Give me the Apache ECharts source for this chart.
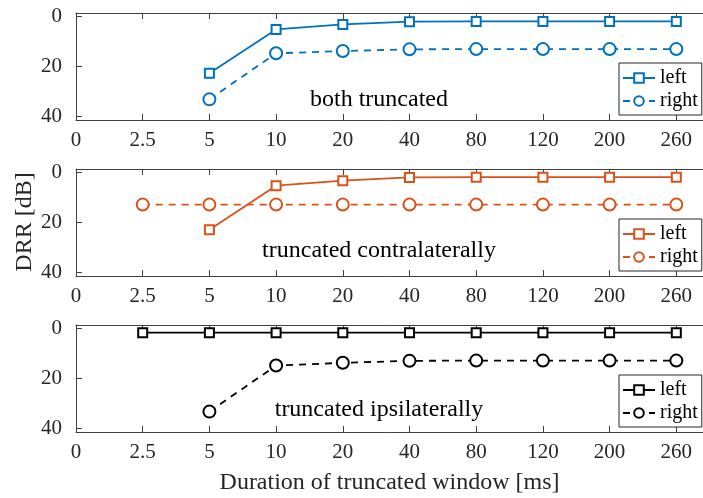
<!DOCTYPE html>
<html>
<head>
<meta charset="utf-8">
<script src="https://cdn.jsdelivr.net/npm/echarts@6/dist/echarts.min.js"></script>
<style>
html,body{margin:0;padding:0;background:#fff;}
#chart{width:703px;height:498px;}
</style>
</head>
<body>
<div id="chart"></div>
<script>
// ---- data ----
var categories = ['0', '2.5', '5', '10', '20', '40', '80', '120', '200', '260'];
var yTicks = [0, 20, 40];
var panelTitles = ['both truncated', 'truncated contralaterally', 'truncated ipsilaterally'];
var seriesNames = ['left', 'right'];

var bothLeft   = [null, null, 22.7, 5.1, 3.1, 2.0, 1.9, 1.9, 1.9, 1.9];
var bothRight  = [null, null, 33.2, 14.7, 13.8, 13.1, 13.0, 13.0, 13.0, 13.0];
var contraLeft  = [null, null, 22.9, 5.2, 3.2, 1.9, 1.8, 1.8, 1.8, 1.8];
var contraRight = [null, 12.8, 12.8, 12.8, 12.8, 12.8, 12.8, 12.8, 12.8, 12.8];
var ipsiLeft  = [null, 1.6, 1.6, 1.6, 1.6, 1.6, 1.6, 1.6, 1.6, 1.6];
var ipsiRight = [null, null, 33.3, 14.8, 13.7, 12.9, 12.8, 12.8, 12.8, 12.8];

var panelData = [[bothLeft, bothRight], [contraLeft, contraRight], [ipsiLeft, ipsiRight]];
var panelColors = ['#0072BD', '#D95319', '#000000'];

// ---- layout ----
var FONT = 'Liberation Serif, Times New Roman, serif';
var gridTops = [13, 169, 325];
var gridH = 107;
var gridL = 76;
var gridW = 628;
var xIdx = categories.map(function (c, i) { return i; });

function toPairs(arr) {
  var out = [];
  arr.forEach(function (v, i) { if (v !== null) out.push([i, v]); });
  return out;
}

var grids = [], xAxes = [], yAxes = [], series = [], legends = [], graphics = [];
var axisColor = '#404040';

for (var p = 0; p < 3; p++) {
  grids.push({ left: gridL, top: gridTops[p], width: gridW, height: gridH });
  // bottom axis
  xAxes.push({
    type: 'value', gridIndex: p, position: 'bottom', min: 0, max: 9.4,
    axisLine: { show: true, onZero: false, lineStyle: { color: axisColor, width: 1 } },
    axisTick: { show: true, inside: true, length: 6, customValues: xIdx, lineStyle: { color: axisColor } },
    axisLabel: { show: true, customValues: xIdx, margin: 10, color: '#262626', fontFamily: FONT, fontSize: 21,
      formatter: function (v) { return categories[Math.round(v)]; } },
    splitLine: { show: false },
    name: p === 2 ? 'Duration of truncated window [ms]' : '',
    nameLocation: 'middle', nameGap: 39,
    nameTextStyle: { color: '#262626', fontFamily: FONT, fontSize: 24 }
  });
  // top border axis
  xAxes.push({
    type: 'value', gridIndex: p, position: 'top', min: 0, max: 9.4,
    axisLine: { show: true, onZero: false, lineStyle: { color: axisColor, width: 1 } },
    axisTick: { show: true, inside: true, length: 6, customValues: xIdx, lineStyle: { color: axisColor } },
    axisLabel: { show: false },
    splitLine: { show: false }
  });
  yAxes.push({
    type: 'value', gridIndex: p, inverse: true, min: -1.5, max: 41.5,
    axisLine: { show: true, onZero: false, lineStyle: { color: axisColor, width: 1 } },
    axisTick: { show: true, inside: true, length: 6, customValues: yTicks, lineStyle: { color: axisColor } },
    axisLabel: { show: true, customValues: yTicks, margin: 14, color: '#262626', fontFamily: FONT, fontSize: 21 },
    splitLine: { show: false }
  });
  var names = [];
  for (var s = 0; s < 2; s++) {
    var nm = seriesNames[s] + '|' + p;
    names.push(nm);
    series.push({
      type: 'line', name: nm, xAxisIndex: p * 2, yAxisIndex: p,
      data: toPairs(panelData[p][s]),
      symbol: s === 0 ? 'emptyRect' : 'emptyCircle',
      symbolSize: s === 0 ? 9 : 12,
      color: panelColors[p],
      itemStyle: { color: panelColors[p], borderWidth: 2 },
      lineStyle: { color: panelColors[p], width: 1.8, type: s === 0 ? 'solid' : [7, 6] },
      emphasis: { disabled: true },
      silent: true,
      z: s === 0 ? 3 : 2
    });
  }
  legends.push({
    data: names, orient: 'vertical', left: 619, top: gridTops[p] + 50,
    itemWidth: 32, itemHeight: 12, itemGap: 3,
    padding: [5, 4, 4, 3],
    borderColor: '#262626', borderWidth: 1, backgroundColor: '#fff',
    selectedMode: false,
    textStyle: { fontFamily: FONT, fontSize: 20, color: '#000' },
    formatter: function (n) { return n.split('|')[0]; }
  });
}

var annY = [99.5, 251, 410];
for (var p2 = 0; p2 < 3; p2++) {
  graphics.push({
    type: 'text', z: 100,
    style: { text: panelTitles[p2], x: 379, y: annY[p2], textAlign: 'center', textVerticalAlign: 'middle',
      font: '24px ' + FONT, fill: '#000' }
  });
}
graphics.push({
  type: 'text', z: 100, rotation: Math.PI / 2, x: 25, y: 222,
  style: { text: 'DRR [dB]', x: 0, y: 0, textAlign: 'center', textVerticalAlign: 'middle',
    font: '24px ' + FONT, fill: '#262626' }
});

var chart = echarts.init(document.getElementById('chart'), null, { renderer: 'canvas' });
chart.setOption({
  animation: false,
  backgroundColor: '#fff',
  grid: grids, xAxis: xAxes, yAxis: yAxes, series: series, legend: legends,
  graphic: graphics
});
</script>
</body>
</html>
